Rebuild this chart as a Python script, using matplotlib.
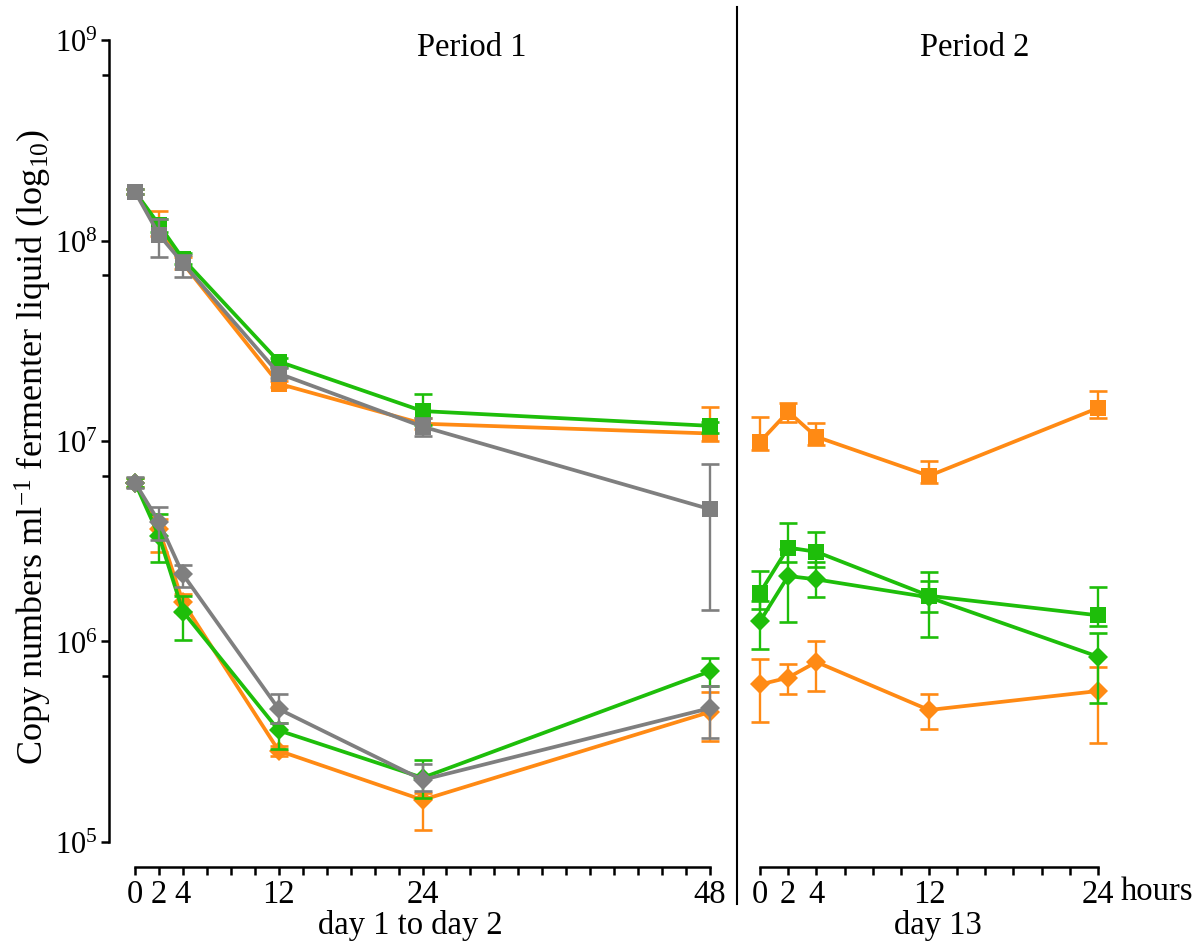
import matplotlib
matplotlib.use("Agg")
import matplotlib.pyplot as plt
from matplotlib.lines import Line2D
from matplotlib.ticker import FixedLocator, NullFormatter

plt.rcParams["font.family"] = ["Liberation Serif", "DejaVu Serif"]
plt.rcParams["mathtext.fontset"] = "custom"
plt.rcParams["mathtext.rm"] = "Liberation Serif"
plt.rcParams["mathtext.it"] = "Liberation Serif:italic"
plt.rcParams["mathtext.bf"] = "Liberation Serif:bold"

# ---------------- data ----------------
hours_p1 = [0, 2, 4, 12, 24, 48]
hours_p2 = [0, 2, 4, 12, 24]
p1_ticks = [0, 2, 4, 12, 24, 48]
p2_ticks = [0, 2, 4, 12, 24]
y_ticks = [1e5, 1e6, 1e7, 1e8, 1e9]
y_tick_labels = [r"$10^{5}$", r"$10^{6}$", r"$10^{7}$", r"$10^{8}$", r"$10^{9}$"]

# Period 1, squares
p1_sq_orange = [1.75e8, 1.17e8, 7.7e7, 1.93e7, 1.22e7, 1.09e7]
p1_sq_orange_lo = [1.70e8, 1.05e8, 7.2e7, 1.85e7, 1.15e7, 1.00e7]
p1_sq_orange_hi = [1.80e8, 1.41e8, 8.3e7, 2.00e7, 1.30e7, 1.48e7]
p1_sq_green = [1.75e8, 1.20e8, 8.1e7, 2.49e7, 1.41e7, 1.19e7]
p1_sq_green_lo = [1.70e8, 1.10e8, 7.6e7, 2.35e7, 1.20e7, 1.10e7]
p1_sq_green_hi = [1.80e8, 1.28e8, 8.7e7, 2.60e7, 1.72e7, 1.25e7]
p1_sq_gray = [1.75e8, 1.07e8, 7.7e7, 2.17e7, 1.18e7, 4.57e6]
p1_sq_gray_lo = [1.70e8, 8.3e7, 6.6e7, 2.05e7, 1.06e7, 1.44e6]
p1_sq_gray_hi = [1.80e8, 1.28e8, 8.5e7, 2.30e7, 1.30e7, 7.7e6]

# Period 1, diamonds
p1_di_orange = [6.2e6, 3.63e6, 1.57e6, 2.85e5, 1.62e5, 4.45e5]
p1_di_orange_lo = [5.9e6, 2.80e6, 1.40e6, 2.69e5, 1.15e5, 3.20e5]
p1_di_orange_hi = [6.5e6, 4.10e6, 1.72e6, 3.00e5, 1.75e5, 5.60e5]
p1_di_green = [6.2e6, 3.36e6, 1.41e6, 3.6e5, 2.09e5, 7.1e5]
p1_di_green_lo = [5.9e6, 2.50e6, 1.02e6, 2.9e5, 1.65e5, 6.0e5]
p1_di_green_hi = [6.5e6, 4.30e6, 1.68e6, 3.9e5, 2.57e5, 8.3e5]
p1_di_gray = [6.2e6, 3.95e6, 2.16e6, 4.6e5, 2.04e5, 4.65e5]
p1_di_gray_lo = [5.8e6, 3.20e6, 1.86e6, 3.9e5, 1.80e5, 3.3e5]
p1_di_gray_hi = [6.6e6, 4.70e6, 2.40e6, 5.46e5, 2.45e5, 6.0e5]

# Period 2, squares
p2_sq_orange = [9.9e6, 1.40e7, 1.05e7, 6.7e6, 1.46e7]
p2_sq_orange_lo = [9.0e6, 1.25e7, 9.5e6, 6.2e6, 1.30e7]
p2_sq_orange_hi = [1.31e7, 1.55e7, 1.23e7, 7.95e6, 1.78e7]
p2_sq_green = [1.75e6, 2.94e6, 2.80e6, 1.69e6, 1.35e6]
p2_sq_green_lo = [1.45e6, 2.50e6, 2.35e6, 1.40e6, 1.20e6]
p2_sq_green_hi = [2.24e6, 3.89e6, 3.50e6, 2.22e6, 1.86e6]

# Period 2, diamonds
p2_di_green = [1.26e6, 2.12e6, 2.04e6, 1.66e6, 8.4e5]
p2_di_green_lo = [9.2e5, 1.25e6, 1.66e6, 1.05e6, 4.95e5]
p2_di_green_hi = [1.60e6, 2.90e6, 2.50e6, 2.00e6, 1.10e6]
p2_di_orange = [6.1e5, 6.6e5, 7.9e5, 4.55e5, 5.66e5]
p2_di_orange_lo = [3.98e5, 5.5e5, 5.65e5, 3.65e5, 3.12e5]
p2_di_orange_hi = [8.2e5, 7.7e5, 1.0e6, 5.46e5, 7.5e5]

ORANGE = "#FF8A14"
GREEN = "#1EBE0A"
GRAY = "#7F7F7F"

W, H = 1196, 945
fig = plt.figure(figsize=(W / 100, H / 100), dpi=100)

YLIM = (10 ** 4.875, 10 ** 9.055)
FS = 23.5


def fx(px):
    return px / W


def fy(py):
    return 1 - py / H


ax1 = fig.add_axes([fx(109), fy(868), fx(725) - fx(109), fy(30) - fy(868)])
ax2 = fig.add_axes([fx(745), fy(868), fx(1110) - fx(745), fy(30) - fy(868)])


def series(ax, x, y, lo, hi, color, marker, ms, z):
    yerr = [[v - l for v, l in zip(y, lo)], [h - v for v, h in zip(y, hi)]]
    ax.errorbar(x, y, yerr=yerr, fmt="none", ecolor=color, elinewidth=1.7,
                capsize=6.5, capthick=1.9, zorder=z, clip_on=False)
    ax.plot(x, y, color=color, marker=marker, markersize=ms,
            markeredgewidth=0, linewidth=2.7, zorder=z + 0.5, clip_on=False)


SQ, DI = 12, 10.5
series(ax1, hours_p1, p1_sq_orange, p1_sq_orange_lo, p1_sq_orange_hi, ORANGE, "s", SQ, 3)
series(ax1, hours_p1, p1_sq_green, p1_sq_green_lo, p1_sq_green_hi, GREEN, "s", SQ, 4)
series(ax1, hours_p1, p1_sq_gray, p1_sq_gray_lo, p1_sq_gray_hi, GRAY, "s", SQ, 5)
series(ax1, hours_p1, p1_di_orange, p1_di_orange_lo, p1_di_orange_hi, ORANGE, "D", DI, 3)
series(ax1, hours_p1, p1_di_green, p1_di_green_lo, p1_di_green_hi, GREEN, "D", DI, 4)
series(ax1, hours_p1, p1_di_gray, p1_di_gray_lo, p1_di_gray_hi, GRAY, "D", DI, 5)

series(ax2, hours_p2, p2_sq_orange, p2_sq_orange_lo, p2_sq_orange_hi, ORANGE, "s", SQ, 3)
series(ax2, hours_p2, p2_di_orange, p2_di_orange_lo, p2_di_orange_hi, ORANGE, "D", DI, 3)
series(ax2, hours_p2, p2_sq_green, p2_sq_green_lo, p2_sq_green_hi, GREEN, "s", SQ, 4)
series(ax2, hours_p2, p2_di_green, p2_di_green_lo, p2_di_green_hi, GREEN, "D", DI, 4)

for ax, ticks, xmax, x_lo, x_hi in (
        (ax1, p1_ticks, 48, -(135 - 109) / 11.97, 48 + 15 / 11.97),
        (ax2, p2_ticks, 24, -15 / 14.07, 24 + 12 / 14.07)):
    ax.set_yscale("log")
    ax.set_ylim(*YLIM)
    ax.set_xlim(x_lo, x_hi)
    ax.patch.set_alpha(0)
    for s in ("top", "right"):
        ax.spines[s].set_visible(False)
    ax.spines["bottom"].set_bounds(0, xmax)
    ax.spines["bottom"].set_linewidth(1.8)
    ax.set_xticks(ticks)
    ax.set_xticklabels([str(t) for t in ticks], fontsize=FS)
    ax.xaxis.set_minor_locator(FixedLocator(list(range(0, xmax + 1, 2))))
    ax.tick_params(axis="x", which="major", direction="out", length=6,
                   width=1.8, pad=2)
    ax.tick_params(axis="x", which="minor", direction="out", length=6,
                   width=1.8)

ax1.spines["left"].set_bounds(1e5, 1e9)
ax1.spines["left"].set_linewidth(1.8)
ax1.set_yticks(y_ticks)
ax1.set_yticklabels(y_tick_labels, fontsize=22)
ax1.yaxis.set_minor_locator(FixedLocator([6.7e5, 6.7e6, 6.7e7, 6.7e8]))
ax1.yaxis.set_minor_formatter(NullFormatter())
ax1.tick_params(axis="y", which="major", direction="out", length=6, width=1.8, pad=2)
ax1.tick_params(axis="y", which="minor", direction="out", length=5, width=1.8)

ax2.spines["left"].set_visible(False)
ax2.set_yticks([])
ax2.yaxis.set_minor_locator(FixedLocator([]))

# divider between the two periods
fig.add_artist(Line2D([fx(737), fx(737)], [fy(905), fy(8)], color="black",
                      linewidth=1.5, transform=fig.transFigure))

fig.text(fx(472), fy(48), "Period 1", ha="center", va="center", fontsize=FS)
fig.text(fx(975), fy(48), "Period 2", ha="center", va="center", fontsize=FS)
fig.text(fx(410), fy(926), "day 1 to day 2", ha="center", va="center", fontsize=FS)
fig.text(fx(938), fy(926), "day 13", ha="center", va="center", fontsize=FS)
fig.text(fx(1121), fy(892), "hours", ha="left", va="center", fontsize=FS)
fig.text(fx(33), fy(447), r"Copy numbers ml$^{-1}$ fermenter liquid (log$_{10}$)",
         ha="center", va="center", rotation=90, fontsize=26)

fig.savefig("out.png", dpi=100)
